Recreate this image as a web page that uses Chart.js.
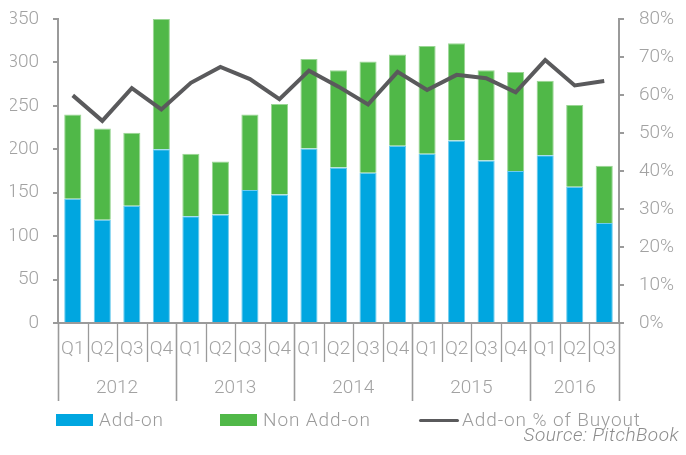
<!DOCTYPE html>
<html>
<head>
<meta charset="utf-8">
<script src="https://cdn.jsdelivr.net/npm/chart.js@4/dist/chart.umd.min.js"></script>
<style>
    html, body { margin: 0; padding: 0; background: #fff; }
    #wrapper { position: relative; width: 686px; height: 455px; font-family: Roboto, sans-serif; font-weight: 300; color: #9b9b9b; }
    canvas { display: block; }
    .item { position: absolute; top: 409px; height: 22px; line-height: 22px; font-size: 19px; letter-spacing: 0.9px; white-space: nowrap; }
    .swatch { position: absolute; left: 0; top: 5px; width: 37px; height: 12px; }
    .item span.txt { position: absolute; top: 0; }
    #source { position: absolute; right: 7px; top: 424px; font-size: 19px; letter-spacing: 0.5px; font-style: italic; color: #8c8c8c; line-height: 22px; }
</style>
</head>
<body>
<div id="wrapper">
    <canvas id="graph" width="686" height="455"></canvas>
    <div id="legend"></div>
    <div id="source">Source: PitchBook</div>
</div>
<script>
const quarterLabels = ["Q1", "Q2", "Q3", "Q4", "Q1", "Q2", "Q3", "Q4", "Q1", "Q2", "Q3", "Q4",
    "Q1", "Q2", "Q3", "Q4", "Q1", "Q2", "Q3"];
const years = ["2012", "2013", "2014", "2015", "2016"];
const quarters_in_year = [4, 4, 4, 4, 3];

const add_on = [143, 119, 135, 200, 123, 125, 153, 148, 201, 179, 173, 204, 195, 210, 187, 175, 193, 157, 115];
const non_add_on = [97, 105, 84, 150, 72, 61, 87, 104, 103, 112, 128, 105, 124, 112, 104, 114, 86, 94, 66];
const add_on_pct = [59.9, 53.2, 61.8, 56.2, 63.2, 67.4, 64.2, 58.9, 66.4, 62.2, 57.5, 66.1, 61.3, 65.3, 64.4, 60.7, 69.2, 62.5, 63.7];

const blue = "#00a6e0";
const green = "#50b848";
const line_color = "#5a5a5c";
const axis_gray = "#9a9a9a";
const text_gray = "#a2a2a2";

/* year axis: separators at year boundaries, labels at year centres */
const year_bounds = [-0.5];
const year_centres = [];
let pos = -0.5;
for (let i = 0; i < years.length; i++) {
    year_centres.push(pos + quarters_in_year[i] / 2);
    pos += quarters_in_year[i];
    year_bounds.push(pos);
}

function yearLabel(value) {
    const i = year_centres.indexOf(value);
    return i >= 0 ? years[i] : "";
}

/* quarter / year separator lines below the axis */
const separators = {
    id: "separators",
    afterDraw(chart) {
        const x = chart.scales.x;
        const x2 = chart.scales.x2;
        const c = chart.ctx;
        c.save();
        c.strokeStyle = axis_gray;
        for (let i = 0; i <= quarterLabels.length; i++) {
            const v = i - 0.5;
            const px = Math.round(x2.getPixelForValue(v)) + 0.5;
            const long = year_bounds.includes(v);
            c.lineWidth = long ? 1.6 : 1.3;
            c.beginPath();
            c.moveTo(px, x.top);
            c.lineTo(px, long ? x2.bottom : x.bottom);
            c.stroke();
        }
        c.restore();
    },
};

/* fixed axis widths, and no extra top/bottom room asked by the tick labels */
function fixWidth(w) {
    return (scale) => {
        scale.width = w;
        scale.paddingTop = 0;
        scale.paddingBottom = 0;
    };
}

const tick_font = { family: "Roboto", weight: "300", size: 19 };
const x_font = { family: "Roboto", weight: "300", size: 19 };

const ctx = document.getElementById("graph");
const graph = new Chart(ctx, {
    type: "bar",
    plugins: [separators],
    data: {
        labels: quarterLabels,
        datasets: [
            {
                type: "line",
                label: "Add-on % of Buyout",
                data: add_on_pct,
                borderColor: line_color,
                backgroundColor: line_color,
                borderWidth: 4,
                pointRadius: 0,
                tension: 0,
                yAxisID: "y1",
                order: 0,
            },
            {
                label: "Add-on",
                data: add_on,
                backgroundColor: blue,
                borderColor: "#6ccbee",
                borderWidth: 1,
                barPercentage: 0.58,
                categoryPercentage: 1,
                yAxisID: "y",
                order: 1,
            },
            {
                label: "Non Add-on",
                data: non_add_on,
                backgroundColor: green,
                borderColor: "#9ad694",
                borderWidth: 1,
                barPercentage: 0.58,
                categoryPercentage: 1,
                yAxisID: "y",
                order: 1,
            },
        ],
    },
    options: {
        responsive: false,
        animation: false,
        layout: { padding: { left: 10, right: 12, top: 19, bottom: 54 } },
        plugins: {
            legend: { display: false },
            tooltip: { enabled: false },
        },
        scales: {
            x: {
                stacked: true,
                offset: true,
                afterFit: (scale) => { scale.height = 39; },
                grid: { display: false, drawTicks: false },
                border: { display: true, color: axis_gray, width: 2 },
                ticks: {
                    padding: 14.6,
                    color: text_gray,
                    font: x_font,
                    maxRotation: 0,
                    autoSkip: false,
                },
            },
            x2: {
                type: "linear",
                position: "bottom",
                min: -0.5,
                max: 18.5,
                offset: false,
                afterFit: (scale) => { scale.height = 39; },
                afterBuildTicks: (scale) => {
                    scale.ticks = year_centres.map((v) => ({ value: v }));
                },
                grid: { display: false, drawTicks: false },
                border: { display: false },
                ticks: {
                    padding: 14.6,
                    color: text_gray,
                    font: x_font,
                    maxRotation: 0,
                    autoSkip: false,
                    callback: (value) => yearLabel(value),
                },
            },
            y: {
                stacked: true,
                position: "left",
                min: 0,
                max: 350,
                afterFit: fixWidth(48),
                grid: {
                    drawOnChartArea: false,
                    drawTicks: true,
                    tickLength: 5,
                    color: axis_gray,
                    lineWidth: 2,
                },
                border: { display: true, color: axis_gray, width: 2 },
                ticks: { stepSize: 50, padding: 14, color: text_gray, font: tick_font },
            },
            y1: {
                position: "right",
                min: 0,
                max: 80,
                afterFit: fixWidth(55),
                grid: {
                    drawOnChartArea: false,
                    drawTicks: true,
                    tickLength: 5,
                    color: axis_gray,
                    lineWidth: 2,
                },
                border: { display: true, color: axis_gray, width: 2 },
                ticks: {
                    stepSize: 10,
                    padding: 15,
                    color: text_gray,
                    font: tick_font,
                    callback: (v) => v + "%",
                },
            },
        },
    },
});

/* legend as plain html under the canvas */
const legend = document.getElementById("legend");
const legend_items = [
    { label: "Add-on", color: blue, left: 56, kind: "box" },
    { label: "Non Add-on", color: green, left: 220, kind: "box" },
    { label: "Add-on % of Buyout", color: line_color, left: 419, kind: "line" },
];
legend_items.forEach((it) => {
    const d = document.createElement("div");
    d.className = "item";
    d.style.left = it.left + "px";
    const sw = document.createElement("div");
    sw.className = "swatch";
    sw.style.background = it.color;
    if (it.kind === "line") {
        sw.style.width = "40px";
        sw.style.height = "3px";
        sw.style.top = "10px";
        sw.style.borderRadius = "2px";
    }
    const t = document.createElement("span");
    t.className = "txt";
    t.textContent = it.label;
    t.style.left = "43px";
    d.appendChild(sw);
    d.appendChild(t);
    legend.appendChild(d);
});
</script>
</body>
</html>
